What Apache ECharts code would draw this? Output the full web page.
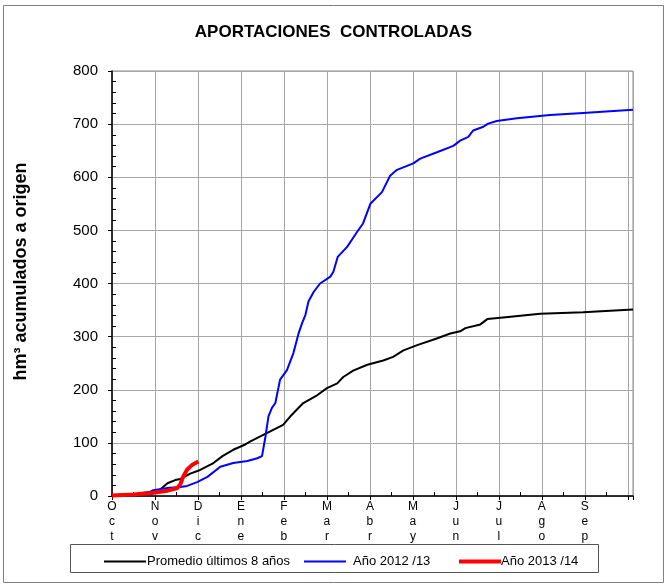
<!DOCTYPE html>
<html lang="es">
<head>
<meta charset="UTF-8">
<title>Aportaciones controladas</title>
<script src="https://cdn.jsdelivr.net/npm/echarts@6/dist/echarts.min.js"></script>
<style>
html,body{margin:0;padding:0;background:#fff}
#chartBox{width:667px;height:586px}
</style>
</head>
<body>
<div id="chartBox"></div>
<script>
// meses del año hidrológico (oct - sep)
var meses = ['Oct','Nov','Dic','Ene','Feb','Mar','Abr','May','Jun','Jul','Ago','Sep'];

// [mes desde 1 oct, hm3 acumulados]
var promedio = [
    [0,0],[0.42,2],[0.89,4],[1.0,6],[1.12,12],[1.29,24],[1.47,30],[1.59,32],[1.82,42],[2.05,49],
    [2.36,62],[2.57,75],[2.82,87],[3.10,97],[3.22,103],[3.52,115],[3.98,134],[4.15,150],[4.45,175],
    [4.78,190],[5.0,203],[5.24,212],[5.38,224],[5.61,236],[5.94,247],[6.31,255],[6.54,262],[6.78,274],
    [7.10,284],[7.57,297],[7.87,306],[8.10,310],[8.22,316],[8.57,323],[8.73,333],[9.10,336],
    [9.96,343],[10.96,346],[12.12,351]
];
var anio1213 = [
    [0,0],[0.42,2],[0.89,8],[0.96,11],[1.29,15],[1.59,17],[1.75,19],[1.98,26],[2.22,36],[2.52,55],
    [2.82,62],[3.15,66],[3.38,71],[3.49,75],[3.57,112],[3.64,150],[3.72,166],[3.80,175],[3.91,219],
    [4.07,237],[4.22,269],[4.34,306],[4.42,325],[4.50,341],[4.57,366],[4.69,384],[4.84,400],[5.08,413],
    [5.15,422],[5.25,450],[5.47,469],[5.70,497],[5.84,513],[6.01,550],[6.28,572],[6.47,603],[6.63,614],
    [7.01,626],[7.17,635],[7.56,647],[7.94,659],[8.10,669],[8.29,676],[8.40,688],[8.64,695],[8.75,701],
    [8.95,706],[9.42,711],[10.19,717],[10.96,721],[12.12,727]
];
var anio1314 = [
    [0,1],[0.5,3],[0.96,6],[1.29,10],[1.52,15],[1.59,22],[1.66,37],[1.75,50],[1.87,59],[2.01,65]
];

var nombres = ['Promedio últimos 8 años', 'Año 2012 /13', 'Año 2013 /14'];

var chartObj = echarts.init(document.getElementById('chartBox'));

// una leyenda por serie, para poder colocarlas a mano
function leyenda(nombre, left, ancho, hueco) {
    return {
        left: left, top: 550,
        itemWidth: 42, itemHeight: 14, itemGap: 0,
        itemStyle: {opacity: 0},
        lineStyle: {width: ancho},
        textStyle: {fontSize: 13, color: '#000', padding: [0, 0, 0, hueco]},
        data: [nombre]
    };
}

var option = {
    animation: false,
    textStyle: {fontFamily: 'Arial, "Liberation Sans", sans-serif'},
    title: {
        text: 'APORTACIONES  CONTROLADAS',
        left: 'center',
        top: 19,
        textStyle: {fontSize: 17, fontWeight: 'bold', color: '#000'}
    },
    grid: {
        left: 112, right: 34, top: 71, bottom: 90,
        show: true, borderColor: '#8c8c8c', borderWidth: 1
    },
    graphic: [
        {type: 'rect', shape: {x: 3.5, y: 5.5, width: 660, height: 577},
         style: {fill: null, stroke: '#7f7f7f', lineWidth: 1}, silent: true, z: -1},
        {type: 'rect', shape: {x: 70.5, y: 544.5, width: 528, height: 28},
         style: {fill: null, stroke: '#555', lineWidth: 1}, silent: true}
    ],
    xAxis: [
        {
            type: 'value', min: 0, max: 12.12, interval: 1,
            axisLine: {lineStyle: {color: '#000', width: 1.5}},
            axisTick: {show: true, length: 4, lineStyle: {color: '#000'}},
            axisLabel: {
                fontSize: 12, color: '#000', lineHeight: 15, margin: 3,
                formatter: function (v) {
                    var i = Math.round(v);
                    if (Math.abs(v - i) > 1e-6 || i > 11) return '';
                    return meses[i].split('').join('\n');
                }
            },
            splitLine: {show: true, lineStyle: {color: '#a6a6a6', width: 1}}
        },
        {
            type: 'value', min: 0, max: 12.12, interval: 1, position: 'bottom',
            axisLine: {show: false},
            axisTick: {show: false, inside: true},
            minorTick: {show: true, splitNumber: 2, length: 4, lineStyle: {color: '#000'}},
            axisLabel: {show: false},
            splitLine: {show: false}
        }
    ],
    yAxis: [
        {
            type: 'value', min: 0, max: 800, interval: 100,
            name: 'hm³ acumulados a origen',
            nameLocation: 'middle', nameGap: 82, nameRotate: 90,
            nameTextStyle: {fontSize: 18, fontWeight: 'bold', color: '#000', padding: [0, 0, 0, 24]},
            axisLine: {show: true, lineStyle: {color: '#000', width: 1.5}},
            axisTick: {show: true, length: 4, lineStyle: {color: '#000'}},
            axisLabel: {fontSize: 15, color: '#000', margin: 14},
            splitLine: {show: true, lineStyle: {color: '#a6a6a6', width: 1}}
        },
        {
            type: 'value', min: 0, max: 800, interval: 100, position: 'left',
            axisLine: {show: false},
            axisTick: {show: false, inside: true},
            minorTick: {show: true, splitNumber: 5, length: 4, lineStyle: {color: '#000'}},
            axisLabel: {show: false},
            splitLine: {show: false}
        }
    ],
    legend: [
        leyenda(nombres[0], 98, 2, -4),
        leyenda(nombres[1], 298, 2, 2),
        leyenda(nombres[2], 452, 4, -5)
    ],
    series: [
        {name: nombres[0], type: 'line', data: promedio, symbol: 'none',
         lineStyle: {color: '#000', width: 2}, itemStyle: {color: '#000'}, z: 3},
        {name: nombres[1], type: 'line', data: anio1213, symbol: 'none',
         lineStyle: {color: '#0000ff', width: 2}, itemStyle: {color: '#0000ff'}, z: 4},
        {name: nombres[2], type: 'line', data: anio1314, symbol: 'none',
         lineStyle: {color: '#ff0000', width: 4}, itemStyle: {color: '#ff0000'}, z: 5}
    ]
};

chartObj.setOption(option);
</script>
</body>
</html>
